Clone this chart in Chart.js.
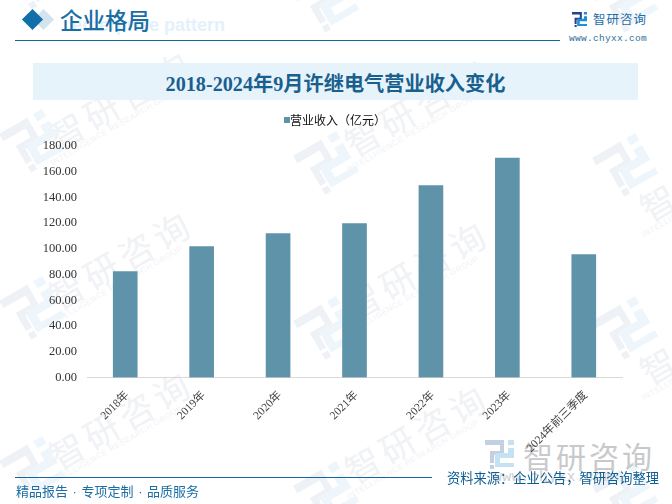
<!DOCTYPE html>
<html><head><meta charset="utf-8">
<script src="https://cdn.jsdelivr.net/npm/chart.js@4"></script>
<style>
html,body{margin:0;padding:0;background:#fff}
#stage{position:relative;width:672px;height:504px;overflow:hidden;background:#fff;font-family:"Noto Sans CJK SC",sans-serif}
#stage>*{position:absolute}
.wm{color:#f0f2f6;font-size:35px;letter-spacing:5px;white-space:nowrap;line-height:1;transform:translate(-50%,-50%) rotate(-30deg)}
.wms{color:#f1f3f6;font:8px/1 "Liberation Sans";letter-spacing:.55px;white-space:nowrap;transform:translate(-50%,-50%) rotate(-30deg)}
.lg{transform:translate(-50%,-50%) rotate(-30deg)}
canvas{left:0;top:0}
</style></head><body>
<div id="stage">
<div id="wmarks" style="left:0;top:0;width:672px;height:504px"></div>
<div style="left:72px;top:13px;font:bold 18px/24px 'Liberation Sans';color:#e4f1fa;white-space:nowrap">enterprise pattern</div>
<div style="left:36px;top:11.5px;width:15px;height:15px;background:#d3e4ee;transform:rotate(45deg)"></div>
<div style="left:25px;top:11.5px;width:15px;height:15px;background:#1170aa;transform:rotate(45deg)"></div>
<div style="left:60px;top:2px;font:500 22.5px/34px 'Noto Sans CJK SC';color:#1a6ea4;white-space:nowrap">企业格局</div>
<div style="left:15px;top:40px;width:545px;height:1px;background:#14659c"></div>
<div style="left:33px;top:63px;width:605px;height:37px;background:#e6f3fb"></div>
<div style="left:33px;top:63px;width:605px;text-align:center;font:bold 20.2px/42px 'Liberation Serif','Noto Sans CJK SC';color:#1a5f8e">2018-2024年9月许继电气营业收入变化</div>
<svg style="left:572px;top:12px" width="15" height="15" viewBox="0 0 29 29"><path fill="#27408b" d="M0 0H19V15H9V23H5V11H15V5H0ZM5 25h4v4H5Z"/><path fill="#1e90d8" d="M23 0h6v5h-6ZM23 8h6V18H15V23H29V27H10V13H23Z"/></svg>
<div style="left:593px;top:11px;font:12.5px/16px 'Noto Sans CJK SC';color:#1e6ca8;letter-spacing:1px;white-space:nowrap">智研咨询</div>
<div style="left:569px;top:32px;font:9.5px/14px 'Liberation Mono';color:#2f6f99;letter-spacing:.3px">www.chyxx.com</div>
<svg style="left:485px;top:440px" width="29" height="29" viewBox="0 0 29 29"><path fill="#c5cfe2" d="M0 0H19V15H9V23H5V11H15V5H0ZM5 25h4v4H5Z"/><path fill="#c5e2f2" d="M23 0h6v5h-6ZM23 8h6V18H15V23H29V27H10V13H23Z"/></svg>
<div style="left:523px;top:436px;font:30px/38px 'Noto Sans CJK SC';color:#c8c9cb;letter-spacing:3px;white-space:nowrap">智研咨询</div>
<div style="left:493px;top:470px;font:15px/16px 'Liberation Mono';color:#d0d0d0;letter-spacing:.2px">www.chyxx.com</div>
<canvas id="c" width="672" height="504" style="width:672px;height:504px"></canvas>
<div style="left:15px;top:477px;width:417px;height:1px;background:#14659c"></div>
<div style="left:16px;top:483px;font:13px/18px 'Liberation Sans','Noto Sans CJK SC';color:#1a6ea4;word-spacing:1px;white-space:nowrap">精品报告 · 专项定制 · 品质服务</div>
<div style="left:447px;top:469px;font:13.25px/18px 'Noto Sans CJK SC';color:#0e5e94;white-space:nowrap">资料来源：企业公告，智研咨询整理</div>
</div>
<script>
const categories=["2018年","2019年","2020年","2021年","2022年","2023年","2024年前三季度"];
const seriesName="营业收入（亿元）";
const revenue=[82.4,101.8,111.9,119.6,149.2,170.7,95.6];
const yTicks=[0,20,40,60,80,100,120,140,160,180];
const barColor='#5f93aa';

/* faint background watermark */
const layer=document.getElementById('wmarks');
function wmText(x,y){
  layer.insertAdjacentHTML('beforeend',
   `<div class="wm" style="position:absolute;left:${x}px;top:${y}px">智研咨询</div>`+
   `<div class="wms" style="position:absolute;left:${x-3}px;top:${y+28}px">INTELLIGENCE RESEARCH GROUP</div>`);
}
function wmLogo(x,y){
  layer.insertAdjacentHTML('beforeend',
   `<svg class="lg" style="position:absolute;left:${x}px;top:${y}px" width="50" height="50" viewBox="0 0 29 29"><path fill="#eef1f6" d="M0 0H19V15H9V23H5V11H15V5H0ZM5 25h4v4H5Z"/><path fill="#eef6fb" d="M23 0h6v5h-6ZM23 8h6V18H15V23H29V27H10V13H23Z"/></svg>`);
}
wmText(120,98);wmText(120,258);wmText(120,418);
wmText(416,105);wmText(416,268);wmText(416,432);
wmText(711,170);wmText(711,333);
wmLogo(33,-20);wmLogo(33,143);wmLogo(33,310);wmLogo(33,470);
wmLogo(327,3);wmLogo(327,165);wmLogo(327,330);wmLogo(327,495);
wmLogo(626,3);wmLogo(626,167);wmLogo(626,330);wmLogo(626,495);

/* legend swatch sits right beside its text */
const swatch=document.createElement('canvas');
swatch.width=12;swatch.height=6;
const sctx=swatch.getContext('2d');
sctx.fillStyle=barColor;sctx.fillRect(6,0,6,6);

const legendShift={id:'legendShift',afterLayout(chart){chart.legend.left=48;chart.legend.top-=10;}};

new Chart(document.getElementById('c'),{
 type:'bar',
 data:{labels:categories,datasets:[{label:seriesName,data:revenue,backgroundColor:barColor,barThickness:24}]},
 plugins:[legendShift],
 options:{
  responsive:false,animation:false,devicePixelRatio:1,
  layout:{padding:{left:0,right:50,top:120,bottom:0}},
  plugins:{
   legend:{display:true,position:'top',align:'center',labels:{usePointStyle:true,pointStyle:swatch,boxWidth:0.1,boxHeight:6,padding:4,color:'#111',font:{family:"'Noto Sans CJK SC'",size:12}}},
   tooltip:{enabled:false}
  },
  scales:{
   x:{afterFit(a){a.height=126.5},grid:{display:false},border:{color:'#d9d9d9'},
      ticks:{autoSkip:false,maxRotation:45,minRotation:45,labelOffset:2,color:'#444',padding:3,font:{family:"'Liberation Serif','Noto Sans CJK SC'",size:11.5}}},
   y:{min:0,max:180,afterBuildTicks(a){a.ticks=yTicks.map(v=>({value:v}))},afterFit(a){a.width=87},grid:{display:false},border:{display:false},
      ticks:{color:'#333',padding:2,font:{family:"'Liberation Serif'",size:12.5},callback:v=>v.toFixed(2)}}
  }
 }
});
</script>
</body></html>
